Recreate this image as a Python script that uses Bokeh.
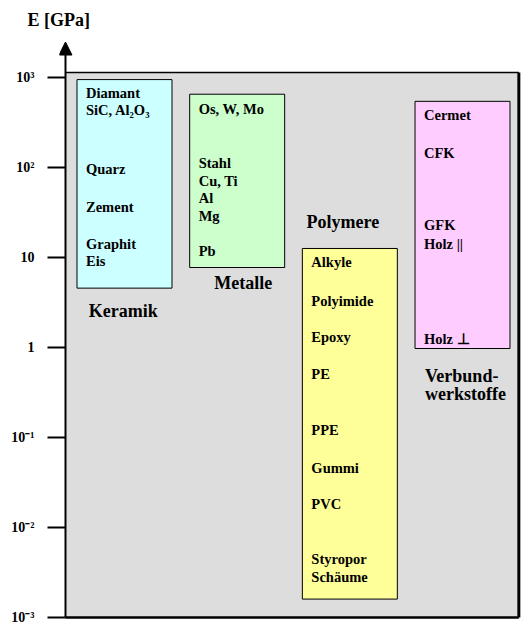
from bokeh.plotting import figure
from bokeh.models import ColumnDataSource, FixedTicker, Range1d, Arrow, NormalHead
from bokeh.core.properties import value
from bokeh.embed import file_html
from bokeh.resources import INLINE

# ---------------- data ----------------
groups = ["Keramik", "Metalle", "Polymere", "Verbundwerkstoffe"]
group_e_min = [4.6, 7.8, 0.0016, 0.98]      # GPa, lower edge of each class box
group_e_max = [960, 660, 12.7, 550]         # GPa, upper edge of each class box
group_colors = ["#CCFFFF", "#CCFFCC", "#FFFF99", "#FFCCFF"]

keramik_items = ["Diamant", "SiC, Al\u2082O\u2083", "Quarz", "Zement", "Graphit", "Eis"]
keramik_e = [673, 435, 96, 37, 14.4, 9.1]

metalle_items = ["Os, W, Mo", "Stahl", "Cu, Ti", "Al", "Mg", "Pb"]
metalle_e = [447, 112, 70.6, 45.7, 29.5, 12.0]

polymere_items = ["Alkyle", "Polyimide", "Epoxy", "PE", "PPE", "Gummi", "PVC", "Styropor", "Sch\u00e4ume"]
polymere_e = [8.87, 3.35, 1.30, 0.516, 0.123, 0.0465, 0.0185, 0.00452, 0.00285]

verbund_items = ["Cermet", "CFK", "GFK", "Holz ||", "Holz \u22a5"]
verbund_e = [383, 145, 22.9, 14.4, 1.26]

group_label_lines = [["Keramik"], ["Metalle"], ["Polymere"], ["Verbund-", "werkstoffe"]]
group_label_e = [[2.56], [5.3], [24.7], [0.484, 0.305]]

tick_values = [1e-3, 1e-2, 1e-1, 1, 10, 100, 1000]
tick_labels = ["10\u207b\u00b3", "10\u207b\u00b2", "10\u207b\u00b9", "1", "10", "10\u00b2", "10\u00b3"]

y_title = "E [GPa]"

# ---------------- layout ----------------
FONT = value("Liberation Serif")
FONT_STR = "'Liberation Serif', serif"
BOX_W = 0.843
X_START, X_END = -0.5769, 3.5502
X_AXIS = -0.5237
Y_START, Y_END = 10 ** -3.023, 10 ** 3.506
E_BOTTOM, E_TOP = 1e-3, 10 ** 3.06
E_ARROW = 10 ** 3.4
X_RIGHT = 3.5

p = figure(width=524, height=636, y_axis_type="log", x_axis_location=None,
           title=y_title, toolbar_location=None, output_backend="svg",
           x_range=Range1d(X_START, X_END), y_range=Range1d(Y_START, Y_END),
           min_border_left=59, min_border_right=0, min_border_top=32, min_border_bottom=17)
p.outline_line_color = None
p.grid.visible = False
p.background_fill_color = "white"
p.border_fill_color = "white"

p.title.align = "left"
p.title.offset = -32
p.title.standoff = 6
p.title.text_font = FONT_STR
p.title.text_font_style = "bold"
p.title.text_font_size = "18px"
p.title.text_color = "black"

# gray plotting area
p.quad(left=[X_AXIS], right=[X_RIGHT], bottom=[E_BOTTOM], top=[E_TOP],
       fill_color="#DDDDDD", line_color=None)
p.segment(x0=[X_AXIS], y0=[E_TOP], x1=[X_RIGHT], y1=[E_TOP], line_color="black", line_width=1.5)
p.segment(x0=[X_RIGHT], y0=[E_BOTTOM], x1=[X_RIGHT], y1=[E_TOP], line_color="black", line_width=3)
p.segment(x0=[X_AXIS], y0=[E_BOTTOM], x1=[X_RIGHT], y1=[E_BOTTOM], line_color="black", line_width=2.5)

# class boxes
xs = list(range(len(groups)))
box_src = ColumnDataSource(dict(
    left=[x - BOX_W / 2 for x in xs], right=[x + BOX_W / 2 for x in xs],
    bottom=group_e_min, top=group_e_max, color=group_colors))
p.quad(left="left", right="right", bottom="bottom", top="top", fill_color="color",
       line_color="black", line_width=1, source=box_src)

# item texts inside the boxes
all_items = [keramik_items, metalle_items, polymere_items, verbund_items]
all_e = [keramik_e, metalle_e, polymere_e, verbund_e]
tx, ty, tt = [], [], []
for gi, (names, vals) in enumerate(zip(all_items, all_e)):
    for n, v in zip(names, vals):
        tx.append(gi - BOX_W / 2)
        ty.append(v)
        tt.append(n)
p.text(x=tx, y=ty, text=tt, x_offset=9, text_font=FONT, text_font_style="bold",
       text_font_size="14.5px", text_baseline="middle", text_align="left", text_color="black")

# group labels
label_x = [-0.012, 1.053, 1.938, 3 - BOX_W / 2]
label_align = ["center", "center", "center", "left"]
label_off = [0, 0, 0, 10]
for gi in range(len(groups)):
    for line, e in zip(group_label_lines[gi], group_label_e[gi]):
        p.text(x=[label_x[gi]], y=[e], text=[line], x_offset=label_off[gi], text_font=FONT,
               text_font_style="bold", text_font_size="18px", text_baseline="middle",
               text_align=label_align[gi], text_color="black")

# y axis (ticks and labels); its line is drawn as the arrow below
ax = p.yaxis[0]
ax.ticker = FixedTicker(ticks=tick_values)
ax.major_label_overrides = {t: l for t, l in zip(tick_values, tick_labels)}
ax.axis_line_color = None
ax.major_tick_in = 6
ax.major_tick_out = 12
ax.major_tick_line_width = 2
ax.major_tick_line_color = "black"
ax.minor_tick_line_color = None
ax.major_label_standoff = 13
ax.major_label_text_font = FONT_STR
ax.major_label_text_font_style = "bold"
ax.major_label_text_font_size = "14px"
ax.major_label_text_color = "black"

# axis line with arrow head
p.add_layout(Arrow(end=NormalHead(size=13, fill_color="black", line_color="black"),
                   x_start=X_AXIS, y_start=E_BOTTOM, x_end=X_AXIS, y_end=E_ARROW,
                   line_color="black", line_width=2))

open("out.html", "w").write(file_html(p, INLINE))
